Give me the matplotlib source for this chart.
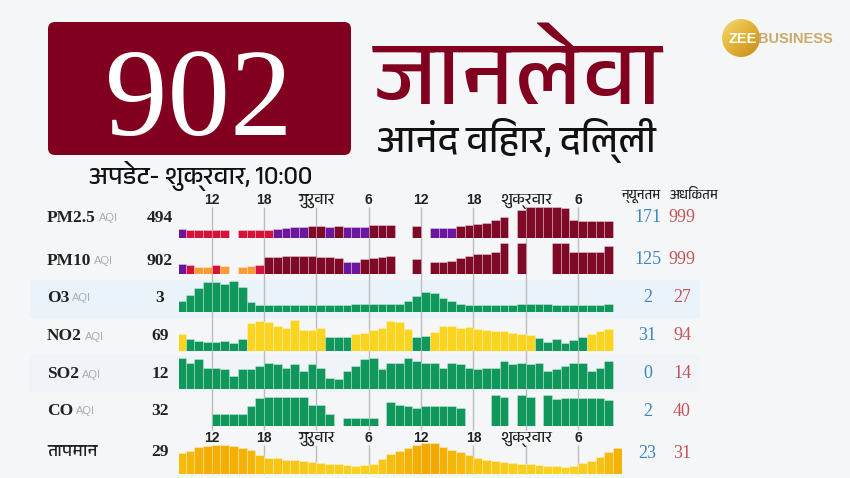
import matplotlib
matplotlib.use('Agg')
import matplotlib.pyplot as plt
from matplotlib import font_manager
from matplotlib.ft2font import FT2Font
from matplotlib.patches import FancyBboxPatch, Rectangle, Circle
from matplotlib.colors import LinearSegmentedColormap, Normalize
import numpy as np

# ---------------- data ----------------
hours = list(range(-16, 34))          # hour offsets relative to Thursday 00:00
temp_hours = list(range(-16, 35))

pm25 = [225, 180, 178, 182, 179, 177, None, 182, 180, 185, 188,
        224, 248, 280, 285, 318, 322, 270, 320, 268, 272, 276,
        340, 354, 356, None, None, 330, None, 240, 245, 255,
        305, 354, 375, 424, 516, 636, None,
        882, 999, 999, 999, 999, 938, 530, 485, 482, 485, 494]
pm10 = [218, 181, 132, 130, 178, 138, None, 135, 140, 185,
        471, 497, 516, 516, 518, 514, 497, 478, 460,
        290, 292, 415, 467, 504, 527, None, None, 415, None,
        305, 308, 341, 467, 542, 590, 595, 664, 999, None,
        999, None, None, None, 999, 999, 690, 690, 688, 692, 902]
o3 = [6, 12, 20, 26, 26, 24, 27, 21, 5,
      2, 2, 2, 2, 2, 2, 2, 2, 2, 2, 2,
      3, 3, 3, 3, 3, 3, 6, 11, 16, 15, 9, 6, 3,
      2, 2, 2, 2, 2, 2, 3, 3, 3, 3, 2, 2, 2, 2, 2, 2, 3]
no2 = [55, 41, 38, 34, 34, 36, 31, 43, 84, 91, 87, 78, 73, 94, 66, 66, 71,
       48, 47, 47, 56, 59, 66, 73, 91, 87, 68, 47, 50, 62, 77, 77, 71, 75,
       68, 66, 64, 63, 59, 56, 53, 46, 35, 41, 32, 40, 47, 55, 64, 69]
so2 = [14, 11, 13, 8, 8, 7, 3, 7, 7, 9, 11, 10, 8, 10, 6, 10, 8, 2, 1, 6,
       9, 13, 14, 7, 11, 11, 14, 12, 11, 11, 8, 11, 10, 8, 7, 8, 8, 12,
       10, 11, 10, 11, 6, 7, 9, 11, 11, 6, 8, 12]
co = [None, None, None, None, 8, 8, 8, 8, 21, 34, 37, 37, 37, 37, 36, 23, 23,
      8, None, 2, 2, 2, 2, None, 29, 23, 21, 19, 21, 21, 21, 21, 18,
      None, None, None, 40, 37, None, 40, 37, None, 39, 33, 34, 35, 35, 34, 34, 32]
temp = [27.5, 28.3, 29.7, 30.1, 30.3, 30.3, 30.0, 29.4, 28.6, 26.9, 26.0,
        25.8, 25.3, 25.1, 24.9, 24.4, 24.2, 24.0, 23.7, 23.5, 23.3, 23.5,
        23.7, 25.4, 27.3, 28.4, 29.4, 30.3, 30.9, 31.0, 29.7, 28.6, 27.8,
        26.9, 25.8, 25.2, 24.9, 24.4, 24.1, 23.9, 23.7, 23.5, 23.3, 23.3,
        23.0, 23.3, 24.1, 24.9, 26.3, 27.8, 29.4]

row_names = ['PM2.5', 'PM10', 'O3', 'NO2', 'SO2', 'CO', 'तापमान']
row_is_aqi = [True, True, True, True, True, True, False]
row_current = ['494', '902', '3', '69', '12', '32', '29']
row_min = [171, 125, 2, 31, 0, 2, 23]
row_max = [999, 999, 27, 94, 14, 40, 31]

tick_hours = [-12, -6, 0, 6, 12, 18, 24, 30]
tick_labels = ['12', '18', 'गुरुवार', '6', '12', '18', 'शुक्रवार', '6']

headline_value = '902'
headline_word = 'जानलेवा'
station = 'आनंद विहार, दिल्ली'
updated = 'अपडेट- शुक्रवार, 10:00'
min_header = 'न्यूनतम'
max_header = 'अधिकतम'

AQI_LIMITS = [50, 100, 150, 200, 300]
AQI_COLORS = ['#10985c', '#fad41e', '#fb9c32', '#d6123a', '#6c169f', '#7e0a27']

# ---------------- fonts ----------------
def families_with(ch):
    names = []
    for f in font_manager.fontManager.ttflist:
        try:
            cmap = FT2Font(f.fname).get_charmap()
        except Exception:
            continue
        if ord(ch) in cmap and f.name not in names:
            names.append(f.name)
    return names

deva = families_with('ज')
pref = [n for n in deva if 'Devanagari' in n] + deva
DEV = ([pref[0]] if pref else []) + ['DejaVu Sans']

# ---------------- figure ----------------
W, H = 850, 478
fig = plt.figure(figsize=(W / 100, H / 100), dpi=100)
BG = '#f5f6f7'
fig.patch.set_facecolor(BG)

bg = fig.add_axes([0, 0, 1, 1])
bg.set_xlim(0, W)
bg.set_ylim(H, 0)
bg.axis('off')

# row highlight bands
bg.add_patch(Rectangle((30, 280), 670, 38, color='#eaf2fa', lw=0, zorder=0))
bg.add_patch(Rectangle((30, 355), 670, 37, color='#f0f4f8', lw=0, zorder=0))

# headline box
bg.add_patch(FancyBboxPatch((48, 22), 303, 133,
                            boxstyle='round,pad=0,rounding_size=7',
                            fc='#82001f', ec='none'))
bg.text(199, 135, headline_value, color='white', fontsize=90,
        family='Liberation Serif', ha='center', va='baseline')
bg.text(201, 184, updated, fontsize=18, family=DEV, ha='center',
        va='baseline', color='#111111')
bg.text(374, 104, headline_word, fontsize=66, family=DEV, weight='bold',
        ha='left', va='baseline', color='#82001f')
bg.text(377, 152, station, fontsize=27, family=DEV, ha='left',
        va='baseline', color='#111111')

# logo
circ = Circle((741, 38), 19, fc='none', ec='none')
bg.add_patch(circ)
yy, xx = np.mgrid[0:1:60j, 0:1:60j]
grad = (xx + yy) / 2
logo_cmap = LinearSegmentedColormap.from_list('gold', ['#f6d974', '#e2b236', '#c38a17'])
im = bg.imshow(grad, cmap=logo_cmap, extent=[722, 760, 57, 19], zorder=2,
               interpolation='bilinear')
im.set_clip_path(circ)
bg.set_xlim(0, W)
bg.set_ylim(H, 0)
bg.set_aspect('auto')
bg.text(757, 39, 'ZEE', fontsize=10.5, weight='bold', family='Liberation Sans',
        color='white', ha='right', va='center', zorder=3)
bg.text(758, 39, 'BUSINESS', fontsize=10.5, weight='bold', family='Liberation Sans',
        color='#c9aa6c', ha='left', va='center', zorder=3)

# ---------------- chart geometry ----------------
X0_PX, X1_PX = 179.3, 621.8
XMIN, XMAX = -15.72, 35
ax_w = (X1_PX - X0_PX) / W

grid = fig.add_axes([X0_PX / W, 0, ax_w, 1])
grid.set_xlim(XMIN, XMAX)
grid.set_ylim(H, 0)
grid.axis('off')
grid.patch.set_alpha(0)
grid.vlines(tick_hours, 207, 430, color='#bdbdbd', lw=1, zorder=0)
grid.vlines(tick_hours, 445, 474, color='#bdbdbd', lw=1, zorder=0)
for h, lab in zip(tick_hours, tick_labels):
    if lab.isdigit():
        kw = dict(family='Liberation Sans', weight='bold', fontsize=10)
    else:
        kw = dict(family=DEV, fontsize=11.5)
    for yb in (204, 442):
        grid.text(h, yb, lab, ha='center', va='baseline', color='#222222', **kw)

row_bottoms = [237.7, 274.3, 312.3, 350.7, 388.5, 425.7, 474.0]
ROW_PX = 31.0
BASE_PX = 7.5
series = [pm25, pm10, o3, no2, so2, co, temp]

def aqi_color(v):
    for lim, c in zip(AQI_LIMITS, AQI_COLORS):
        if v <= lim:
            return c
    return AQI_COLORS[-1]

temp_cmap = LinearSegmentedColormap.from_list('t', ['#f9d21f', '#f3aa00'])

for i, vals in enumerate(series):
    xs_all = temp_hours if i == 6 else hours
    ax = fig.add_axes([X0_PX / W, 1 - row_bottoms[i] / H, ax_w, ROW_PX / H])
    ax.set_xlim(XMIN, XMAX)
    vmin, vmax = row_min[i], row_max[i]
    lo = vmin - (vmax - vmin) * BASE_PX / (ROW_PX - BASE_PX)
    ax.set_ylim(lo, vmax)
    ax.axis('off')
    ax.patch.set_alpha(0)
    xs = [x for x, v in zip(xs_all, vals) if v is not None]
    vs = [v for v in vals if v is not None]
    if i == 6:
        norm = Normalize(vmin, vmax)
        cols = [temp_cmap(norm(v)) for v in vs]
    else:
        cols = [aqi_color(v) for v in vs]
    ax.bar(xs, [v - lo for v in vs], bottom=lo, width=1.0, align='edge',
           color=cols, edgecolor=(1, 1, 1, 0.35), lw=0.6)

# ---------------- row labels & stats ----------------
label_y = [217.5, 261, 297.5, 336, 374, 411, 452]
right_y = [218, 260, 298, 335.5, 373.5, 412, 453.5]
fig.canvas.draw()
rend = fig.canvas.get_renderer()
for i, name in enumerate(row_names):
    if row_is_aqi[i]:
        t = bg.text(47, label_y[i], name, fontsize=12.5, weight='bold',
                    family='Liberation Serif', ha='left', va='center', color='#222222')
        bb = t.get_window_extent(renderer=rend)
        bg.text(bb.x1 + 3, label_y[i] + 0.5, 'AQI', fontsize=8, family='Liberation Sans',
                ha='left', va='center', color='#a9aeb5')
    else:
        bg.text(47, label_y[i], name, fontsize=12.5, family=DEV,
                ha='left', va='center', color='#222222')
    bg.text(160, label_y[i], row_current[i], fontsize=12.5, weight='bold',
            family='Liberation Serif', ha='center', va='center', color='#222222')
    bg.text(647.5, right_y[i], str(row_min[i]), fontsize=13, family='Liberation Serif',
            ha='center', va='center', color='#3d86c6')
    bg.text(682, right_y[i], str(row_max[i]), fontsize=13, family='Liberation Serif',
            ha='center', va='center', color='#c2545a')

bg.text(641, 199, min_header, fontsize=9.5, family=DEV, ha='center', va='baseline',
        color='#222222')
bg.text(694, 199, max_header, fontsize=9.5, family=DEV, ha='center', va='baseline',
        color='#222222')

fig.savefig('out.png', dpi=100, facecolor=BG)
